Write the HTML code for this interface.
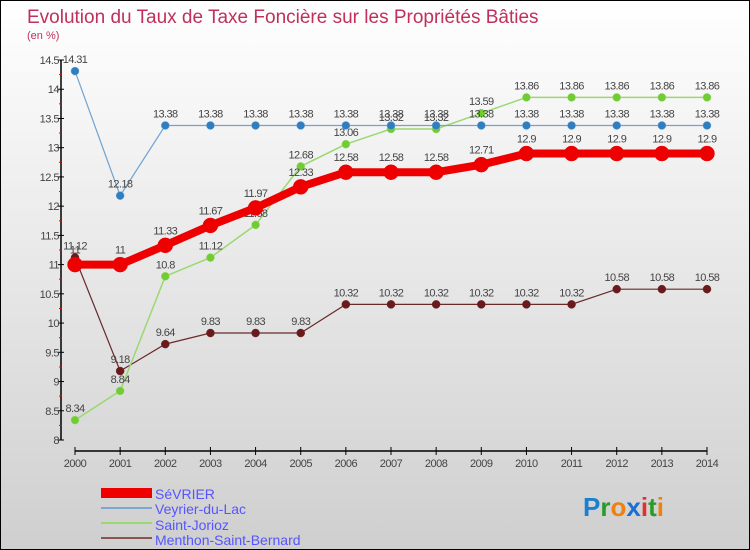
<!DOCTYPE html>
<html><head><meta charset="utf-8"><style>
body{margin:0}
#wrap{width:748px;height:548px;border:1px solid #000;background:linear-gradient(#fff,#cfcfcf);position:relative;font-family:"Liberation Sans",sans-serif;overflow:hidden}
</style></head><body>
<div id="wrap">
<svg id="svg" width="748" height="548" style="position:absolute;left:0;top:0">
<text x="26" y="22" font-size="19" fill="#c0305a">Evolution du Taux de Taxe Foncière sur les Propriétés Bâties</text>
<text x="26" y="38" font-size="11" fill="#c0305a">(en %)</text>
<g id="axes"></g><g id="series"></g>
<g>
<rect x="100" y="487" width="51" height="10" fill="#e00"/>
<text x="154" y="498" font-size="14" fill="#55f">SéVRIER</text>
<rect x="100" y="506" width="51" height="2" fill="#7ba7cc"/>
<text x="154" y="513" font-size="14" fill="#55f">Veyrier-du-Lac</text>
<rect x="100" y="521" width="51" height="2" fill="#9ad870"/>
<text x="154" y="529" font-size="14" fill="#55f">Saint-Jorioz</text>
<rect x="100" y="536" width="51" height="2" fill="#8a5555"/>
<text x="154" y="544" font-size="14" fill="#55f">Menthon-Saint-Bernard</text>
</g>
<text x="582" y="515" font-size="26" font-weight="bold"><tspan fill="#1a7fd0">P</tspan><tspan fill="#2a9a2a">r</tspan><tspan fill="#f08010">o</tspan><tspan fill="#1a6fd0">x</tspan><tspan fill="#e03030">i</tspan><tspan fill="#2a9a2a">t</tspan><tspan fill="#f08010">i</tspan></text>
</svg>
</div>
<script>
const years=[2000,2001,2002,2003,2004,2005,2006,2007,2008,2009,2010,2011,2012,2013,2014];
const yTicks=[8,8.5,9,9.5,10,10.5,11,11.5,12,12.5,13,13.5,14,14.5];
const sevrier=[11,11,11.33,11.67,11.97,12.33,12.58,12.58,12.58,12.71,12.9,12.9,12.9,12.9,12.9];
const veyrier=[14.31,12.18,13.38,13.38,13.38,13.38,13.38,13.38,13.38,13.38,13.38,13.38,13.38,13.38,13.38];
const jorioz=[8.34,8.84,10.8,11.12,11.68,12.68,13.06,13.32,13.32,13.59,13.86,13.86,13.86,13.86,13.86];
const menthon=[11.12,9.18,9.64,9.83,9.83,9.83,10.32,10.32,10.32,10.32,10.32,10.32,10.58,10.58,10.58];
const NS="http://www.w3.org/2000/svg";
const X=i=>74+i*(632/14), Y=v=>439-(v-8)*(380/6.5);
function mk(t,a,p){const e=document.createElementNS(NS,t);for(const k in a)e.setAttribute(k,a[k]);p.appendChild(e);return e;}
const ax=document.getElementById('axes'),sg=document.getElementById('series');
let l=mk('line',{x1:60,y1:Y(14.5),x2:60,y2:Y(8),stroke:'#000','stroke-width':1.5},ax);


l=mk('line',{x1:X(0),y1:450,x2:X(14),y2:450,stroke:'#000','stroke-width':1.5},ax);


yTicks.forEach((v,i)=>{
 mk('line',{x1:57,x2:63,y1:Y(v),y2:Y(v),stroke:'#000'},ax);
 if(i<yTicks.length-1)mk('line',{x1:58,x2:61,y1:Y(v+0.25),y2:Y(v+0.25),stroke:'#e00'},ax);
 const t=mk('text',{x:58,y:Y(v)+4,'font-size':11,fill:'#444','text-anchor':'end','letter-spacing':'-0.5'},ax);
 t.textContent=String(v);
 
 
});
years.forEach((y,i)=>{
 mk('line',{x1:X(i),x2:X(i),y1:446,y2:454,stroke:'#000'},ax);
 const t=mk('text',{x:X(i),y:466,'font-size':11,fill:'#444','text-anchor':'middle','letter-spacing':'-0.5'},ax);
 t.textContent=String(y);
 
 
});
function series(arr,name,col,dot,w,r){
 const g=mk('g',{},sg);
 
 
 const p=mk('polyline',{points:arr.map((v,i)=>X(i)+','+Y(v)).join(' '),fill:'none',stroke:col,'stroke-width':w},g);
 
 
 arr.forEach((v,i)=>{
  const c=mk('circle',{cx:X(i),cy:Y(v),r:r,fill:dot,stroke:col,'stroke-width':0.5},g);
  
  
  const t=mk('text',{x:X(i),y:Y(v)-8-(r>5?3:0),'font-size':11,fill:'#444','text-anchor':'middle','letter-spacing':'-0.6'},g);
  t.textContent=String(v);
  
  
 });
}
series(menthon,'menthon','#6a2a2a','#6a1a1a',1.2,4);
series(jorioz,'jorioz','#9ad870','#70cc30',1.5,4);
series(veyrier,'veyrier','#6fa3d0','#2f7fc0',1.2,4);
series(sevrier,'sevrier','#ee0000','#ee0000',8,7.5);
</script>
</body></html>
